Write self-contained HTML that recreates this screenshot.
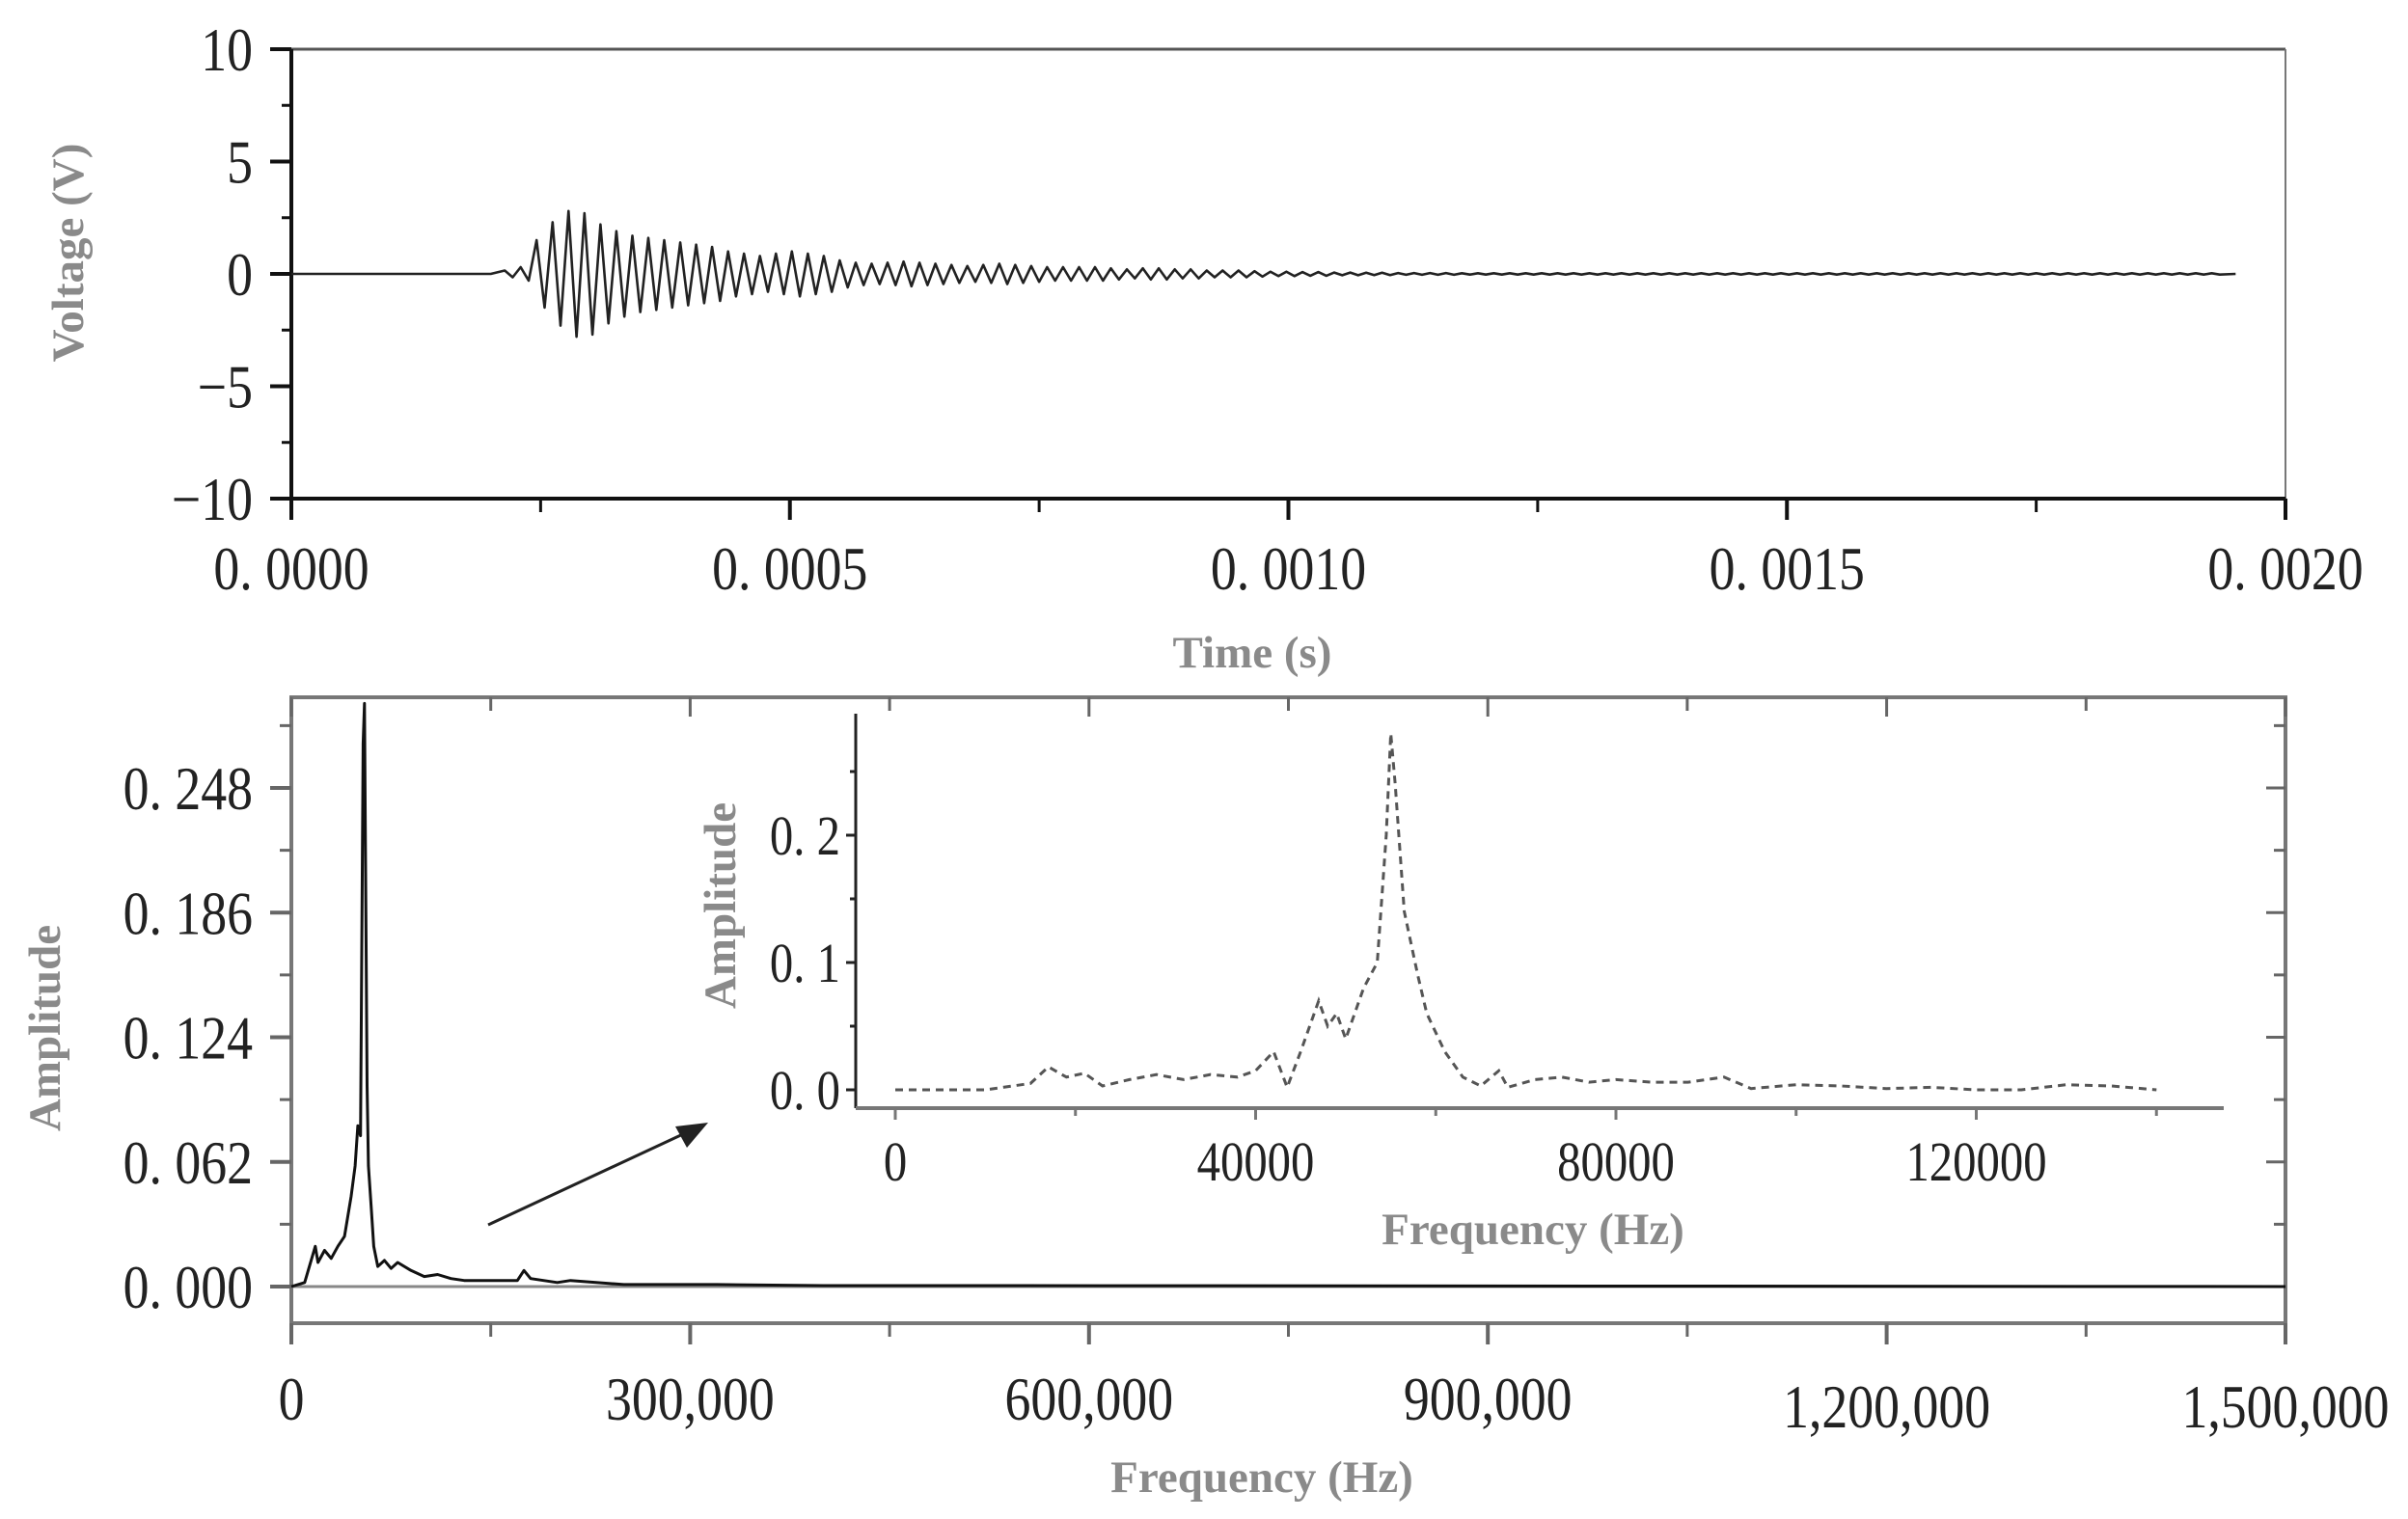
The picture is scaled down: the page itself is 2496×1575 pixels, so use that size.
<!DOCTYPE html>
<html><head><meta charset="utf-8">
<style>
html,body{margin:0;padding:0;background:#fff;}
svg{display:block;}
.tk{font-family:"Liberation Serif",serif;font-size:64px;fill:#222;}
.at{font-family:"Liberation Serif",serif;font-size:47px;font-weight:bold;fill:#8a8a8a;}
</style></head>
<body>
<svg id="fig" width="2496" height="1575" viewBox="0 0 2496 1575" xmlns="http://www.w3.org/2000/svg">
<g id="top"></g>
<g id="bot"></g>
<g id="ins"></g>
</svg>
<script>
// ---- time signal data ----
const tStart = 0.00021;
const halfPeriod = 0.0000080;
const cycleAmps = [0.15,0.3,1.5,2.3,2.8,2.7,2.2,1.9,1.7,1.6,1.5,1.4,1.3,1.2,1.0,0.9,0.8,0.9,1.0,0.9,0.8,0.6,0.5,0.45,0.5,0.55,0.5,0.45,0.4,0.35,0.4,0.45,0.4,0.35,0.3,0.3,0.3,0.3,0.25,0.2,0.25,0.25,0.2,0.2,0.15,0.15,0.15,0.12,0.1,0.1,0.08,0.08,0.06,0.06,0.05,0.05,0.04,0.04,0.04,0.04,0.03,0.03,0.03,0.03,0.03,0.03,0.03,0.03,0.03,0.03,0.03,0.03,0.03,0.03,0.03,0.03,0.03,0.03,0.03,0.03,0.03,0.03,0.03,0.03,0.03,0.03,0.03,0.03,0.03,0.03,0.03,0.03,0.03,0.03,0.03,0.03,0.03,0.03,0.03,0.03,0.03,0.03,0.03,0.03,0.03,0.03,0.03,0.03];
const timeTicks = ["0. 0000","0. 0005","0. 0010","0. 0015","0. 0020"];
const timeTickVals = [0,0.0005,0.001,0.0015,0.002];
const voltTickVals = [10,5,0,-5,-10];
const voltTicks = ["10","5","0","\u22125","\u221210"];

// ---- spectrum data ----
const specFreq = [0,10000,18000,20000,25000,30000,35000,40000,45000,48000,50000,52000,54000,55000,56000,57000,58000,60000,62000,65000,70000,75000,80000,90000,100000,110000,120000,130000,140000,150000,170000,175000,180000,200000,210000,250000,320000,400000,550000,1500000];
const specAmp  = [0,0.002,0.02,0.012,0.018,0.014,0.02,0.025,0.045,0.06,0.08,0.075,0.27,0.29,0.19,0.1,0.06,0.04,0.02,0.01,0.013,0.009,0.012,0.008,0.005,0.006,0.004,0.003,0.003,0.003,0.003,0.008,0.004,0.002,0.003,0.001,0.001,0.0005,0.0005,0];
const specXTicks = ["0","300,000","600,000","900,000","1,200,000","1,500,000"];
const specXVals = [0,300000,600000,900000,1200000,1500000];
const specYVals = [0,0.062,0.124,0.186,0.248];
const specYTicks = ["0. 000","0. 062","0. 124","0. 186","0. 248"];

// ---- inset data ----
const insFreq = [0,5000,10000,15000,17000,19000,21000,23000,26000,29000,32000,35000,38000,40000,42000,43500,45000,47000,48000,49000,50000,52000,53500,54500,55000,55500,56500,58000,59000,61000,63000,65000,67000,68000,71000,74000,77000,80000,84000,88000,92000,95000,100000,105000,110000,115000,120000,125000,130000,135000,140000];
const insAmp  = [0,0,0,0.005,0.018,0.01,0.013,0.003,0.008,0.012,0.008,0.012,0.01,0.015,0.03,0.002,0.03,0.07,0.05,0.06,0.04,0.08,0.1,0.2,0.28,0.24,0.14,0.09,0.06,0.03,0.01,0.003,0.015,0.002,0.008,0.01,0.006,0.008,0.006,0.006,0.01,0.001,0.004,0.003,0.001,0.002,0,0,0.004,0.003,0];
const insXVals = [0,40000,80000,120000];
const insXTicks = ["0","40000","80000","120000"];
const insYVals = [0,0.1,0.2];
const insYTicks = ["0. 0","0. 1","0. 2"];

const NS="http://www.w3.org/2000/svg";
function mk(parent,tag,attrs,text){const e=document.createElementNS(NS,tag);for(const k in attrs)e.setAttribute(k,attrs[k]);if(text!==undefined)e.textContent=text;parent.appendChild(e);return e;}
function lbl(parent,x,y,anchor,txt,size){return mk(parent,'text',{x:0,y:0,'text-anchor':anchor,class:'tk',style:size?('font-size:'+size+'px'):'',transform:'translate('+x+','+y+') scale(0.84,1)'},txt);}

// ===== TOP CHART =====
(function(){
const g=document.getElementById('top');
const L=302,R=2369,T=51,B=517;
const x=t=>L+(t-0)/(0.002)*(R-L);
const y=v=>T+(10-v)/20*(B-T);
let e;
e=mk(g,'line',{x1:L,y1:T,x2:R,y2:T,stroke:'#555','stroke-width':3});

e=mk(g,'line',{x1:R,y1:T,x2:R,y2:B,stroke:'#777','stroke-width':2});

e=mk(g,'line',{x1:L,y1:T,x2:L,y2:B+20,stroke:'#111','stroke-width':4});

e=mk(g,'line',{x1:L-20,y1:B,x2:R,y2:B,stroke:'#111','stroke-width':4});

for(let i=0;i<timeTickVals.length;i++){
 const xv=x(timeTickVals[i]);
 e=mk(g,'line',{x1:xv,y1:B,x2:xv,y2:B+22,stroke:'#111','stroke-width':4});
 
 e=lbl(g,xv,B+94,'middle',timeTicks[i]);
 
 if(i<timeTickVals.length-1){const xm=x(timeTickVals[i]+0.00025);
  e=mk(g,'line',{x1:xm,y1:B,x2:xm,y2:B+14,stroke:'#111','stroke-width':3});
  }
}
for(let i=0;i<voltTickVals.length;i++){
 const yv=y(voltTickVals[i]);
 e=mk(g,'line',{x1:L-22,y1:yv,x2:L,y2:yv,stroke:'#111','stroke-width':4});
 
 e=lbl(g,L-40,yv+22,'end',voltTicks[i]);
 
 if(i<voltTickVals.length-1){const ym=y(voltTickVals[i]-2.5);
  e=mk(g,'line',{x1:L-10,y1:ym,x2:L,y2:ym,stroke:'#111','stroke-width':3});
  }
}
let d='M'+L+','+y(0)+' L'+x(tStart-0.00001)+','+y(0);
for(let i=0;i<cycleAmps.length;i++){
 const t0=tStart+i*2*halfPeriod;
 if(t0>0.00194)break;
 d+=' L'+x(t0+halfPeriod*0.5).toFixed(1)+','+y(cycleAmps[i]).toFixed(1);
 d+=' L'+x(t0+halfPeriod*1.5).toFixed(1)+','+y(-cycleAmps[i]).toFixed(1);
}
d+=' L'+x(0.00195)+','+y(0);
e=mk(g,'path',{d:d,fill:'none',stroke:'#222','stroke-width':2.6,'stroke-linejoin':'round'});

e=mk(g,'text',{x:0,y:0,class:'at','text-anchor':'middle',transform:'translate(86,262) rotate(-90)'},'Voltage (V)');

e=mk(g,'text',{x:1298,y:692,class:'at','text-anchor':'middle'},'Time (s)');

})();

// ===== BOTTOM CHART =====
(function(){
const g=document.getElementById('bot');
const L=302,R=2369,T=723,B=1372;
const x=f=>L+f/1500000*(R-L);
const y=a=>1334-a/0.248*(1334-817);
let e;
e=mk(g,'rect',{x:L,y:T,width:R-L,height:B-T,fill:'none',stroke:'#777','stroke-width':4});

for(let i=0;i<specXVals.length;i++){
 const xv=x(specXVals[i]);
 e=mk(g,'line',{x1:xv,y1:B,x2:xv,y2:B+22,stroke:'#666','stroke-width':4});
 
 e=mk(g,'line',{x1:xv,y1:T,x2:xv,y2:T+20,stroke:'#666','stroke-width':3});
 
 e=lbl(g,xv,1472+(i>=4?8:0),'middle',specXTicks[i]);
 
 if(i<specXVals.length-1){const xm=x(specXVals[i]+150000);
  e=mk(g,'line',{x1:xm,y1:B,x2:xm,y2:B+14,stroke:'#666','stroke-width':3});
  
  e=mk(g,'line',{x1:xm,y1:T,x2:xm,y2:T+14,stroke:'#666','stroke-width':3});
  }
}
for(let i=0;i<specYVals.length;i++){
 const yv=y(specYVals[i]);
 e=mk(g,'line',{x1:L-22,y1:yv,x2:L,y2:yv,stroke:'#666','stroke-width':4});
 
 e=mk(g,'line',{x1:R-20,y1:yv,x2:R,y2:yv,stroke:'#666','stroke-width':3});
 
 e=lbl(g,L-40,yv+22,'end',specYTicks[i]);
 
 const ym=y(specYVals[i]+0.031);
 e=mk(g,'line',{x1:L-12,y1:ym,x2:L,y2:ym,stroke:'#666','stroke-width':3});
 
 e=mk(g,'line',{x1:R-12,y1:ym,x2:R,y2:ym,stroke:'#666','stroke-width':3});
 
}
e=mk(g,'line',{x1:L,y1:y(0),x2:R,y2:y(0),stroke:'#888','stroke-width':3});

let d='';
for(let i=0;i<specFreq.length;i++){d+=(i?' L':'M')+x(specFreq[i]).toFixed(1)+','+y(specAmp[i]).toFixed(1);}
e=mk(g,'path',{d:d,fill:'none',stroke:'#111','stroke-width':3,'stroke-linejoin':'round'});

e=mk(g,'line',{x1:506,y1:1270,x2:710,y2:1175,stroke:'#222','stroke-width':3});

e=mk(g,'polygon',{points:'734,1164 700,1168 712,1190',fill:'#222'});

e=mk(g,'text',{x:0,y:0,class:'at','text-anchor':'middle',transform:'translate(62,1066) rotate(-90)'},'Amplitude');

e=mk(g,'text',{x:1308,y:1547,class:'at','text-anchor':'middle'},'Frequency (Hz)');

})();

// ===== INSET =====
(function(){
const g=document.getElementById('ins');
const L=887,R=2305,T=740,B=1149;
const x=f=>928+f/40000*373.5;
const y=a=>1130-a/0.1*132;
let e;
e=mk(g,'line',{x1:L,y1:T,x2:L,y2:B,stroke:'#222','stroke-width':3});

e=mk(g,'line',{x1:L,y1:B,x2:R,y2:B,stroke:'#777','stroke-width':4});

for(let i=0;i<insXVals.length;i++){
 const xv=x(insXVals[i]);
 e=mk(g,'line',{x1:xv,y1:B,x2:xv,y2:B+12,stroke:'#777','stroke-width':3});
 
 e=mk(g,'line',{x1:x(insXVals[i]+20000),y1:B,x2:x(insXVals[i]+20000),y2:B+8,stroke:'#777','stroke-width':3});
 
 e=lbl(g,xv,1224,'middle',insXTicks[i],58);
 
}
for(let i=0;i<insYVals.length;i++){
 const yv=y(insYVals[i]);
 e=mk(g,'line',{x1:L-10,y1:yv,x2:L,y2:yv,stroke:'#222','stroke-width':3});
 
 e=mk(g,'line',{x1:L-6,y1:y(insYVals[i]+0.05),x2:L,y2:y(insYVals[i]+0.05),stroke:'#222','stroke-width':3});
 
 e=lbl(g,L-16,yv+20,'end',insYTicks[i],58);
 
}
let d='';
for(let i=0;i<insFreq.length;i++){d+=(i?' L':'M')+x(insFreq[i]).toFixed(1)+','+y(insAmp[i]).toFixed(1);}
e=mk(g,'path',{d:d,fill:'none',stroke:'#555','stroke-width':3,'stroke-dasharray':'8 6'});

e=mk(g,'text',{x:0,y:0,class:'at','text-anchor':'middle',transform:'translate(762,939) rotate(-90)'},'Amplitude');

e=mk(g,'text',{x:1589,y:1290,class:'at','text-anchor':'middle'},'Frequency (Hz)');

})();
</script>
</body></html>
